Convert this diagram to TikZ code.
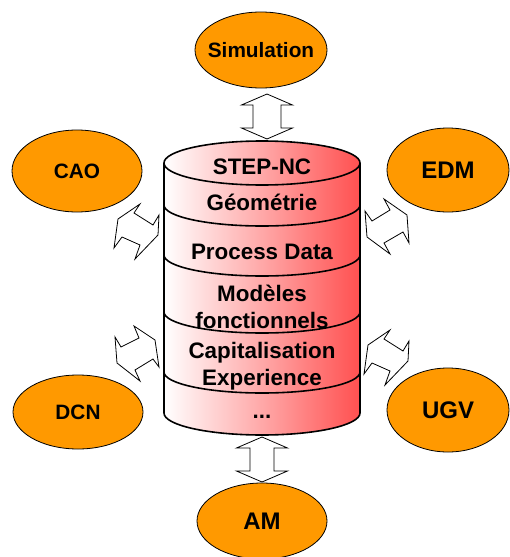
\documentclass[tikz,border=0pt]{standalone}
\usepackage{fontspec}
\setmainfont{Liberation Sans}
\usetikzlibrary{shapes.geometric}
\definecolor{orng}{HTML}{FF9900}
\definecolor{cylred}{HTML}{FF5050}
\tikzset{
  blob/.style={ellipse, draw=black, line width=0.8pt, fill=orng, inner sep=0pt, font=\bfseries},
  layer/.style={font=\fontsize{22.4}{27}\selectfont\bfseries, align=center, inner sep=0pt},
  harrow/.style={draw=black, line width=0.8pt, fill=white, line join=miter},
  cyl/.style={draw=black, line width=1.6pt}
}
\newcommand{\zb}[1]{\makebox[0pt]{#1}}
\begin{document}
\begin{tikzpicture}[x=1pt,y=-1pt]
\useasboundingbox (0,0) rectangle (509,557);
% ellipses
\node[blob, minimum width=132pt, minimum height=76pt, font=\fontsize{20.8}{24}\selectfont\bfseries] (sim) at (261,50) {\zb{Simulation}};
\node[blob, minimum width=130pt, minimum height=82pt, font=\fontsize{20.8}{24}\selectfont\bfseries] (cao) at (77,171) {\zb{CAO}};
\node[blob, minimum width=122pt, minimum height=84pt, font=\fontsize{24}{28}\selectfont\bfseries] (edm) at (448,170) {\zb{EDM}};
\node[blob, minimum width=130pt, minimum height=74pt, font=\fontsize{20.8}{24}\selectfont\bfseries] (dcn) at (78,412) {\zb{DCN}};
\node[blob, minimum width=122pt, minimum height=84pt, font=\fontsize{24}{28}\selectfont\bfseries] (ugv) at (448,410) {\zb{UGV}};
\node[blob, minimum width=130pt, minimum height=76pt, font=\fontsize{24}{28}\selectfont\bfseries] (am) at (262,521) {\zb{AM}};
% cylinder
\shade[left color=white, right color=cylred] (164,163) -- (164,413) arc[start angle=180,end angle=360,x radius=98pt,y radius=22pt] -- (360,163) -- cycle;
\shade[left color=white, right color=cylred] (262,163) ellipse[x radius=98pt, y radius=22pt];
\draw[cyl] (262,163) ellipse[x radius=98pt, y radius=22pt];
\draw[cyl] (164,163) -- (164,413) arc[start angle=180,end angle=360,x radius=98pt,y radius=22pt] -- (360,163);
\foreach \yy in {205,255,312,372}{
  \draw[cyl] (164,\yy) arc[start angle=180,end angle=360,x radius=98pt,y radius=21pt];
}
\node[layer] (l1) at (262,167) {STEP-NC};
\node[layer] (l2) at (262,202) {Géométrie};
\node[layer] (l3) at (262,252) {Process Data};
\node[layer] (l4) at (262,307) {Modèles\\fonctionnels};
\node[layer] (l5) at (262,366) {Capitalisation\\Experience};
\node[layer] (l6) at (262,417) {...};
% vertical arrows
\coordinate (ta) at (267,94);
\coordinate (tb) at (267,139);
\draw[harrow] (ta) -- ++(25.5,11) -- ++(-11.5,0) -- ++(0,23) -- ++(11.5,0) -- (tb) -- ++(-25.5,-11) -- ++(11.5,0) -- ++(0,-23) -- ++(-11.5,0) -- cycle;
\coordinate (ba) at (262,437);
\coordinate (bb) at (262,482);
\draw[harrow] (ba) -- ++(25.5,11) -- ++(-13.5,0) -- ++(0,23) -- ++(13.5,0) -- (bb) -- ++(-25.5,-11) -- ++(13.5,0) -- ++(0,-23) -- ++(-13.5,0) -- cycle;
% diagonal arrows
\draw[harrow] (140,204) -- (118,219) -- (114,248) -- (122,237) -- (140,245) -- (135,259) -- (158,235) -- (159,215) -- (153,225) -- (134,213) -- cycle;
\draw[harrow] (365,211) -- (372,221) -- (390,210) -- (384,199) -- (407,215) -- (409,243) -- (403,232) -- (384,243) -- (390,254) -- (367,237) -- cycle;
\draw[harrow] (115,337) -- (121,347) -- (139,338) -- (134,326) -- (155,340) -- (159,367) -- (153,359) -- (135,370) -- (140,381) -- (117,363) -- cycle;
\draw[harrow] (390,330) -- (368,345) -- (364,374) -- (372,363) -- (390,371) -- (385,385) -- (408,361) -- (409,341) -- (403,351) -- (384,339) -- cycle;
\end{tikzpicture}
\end{document}
